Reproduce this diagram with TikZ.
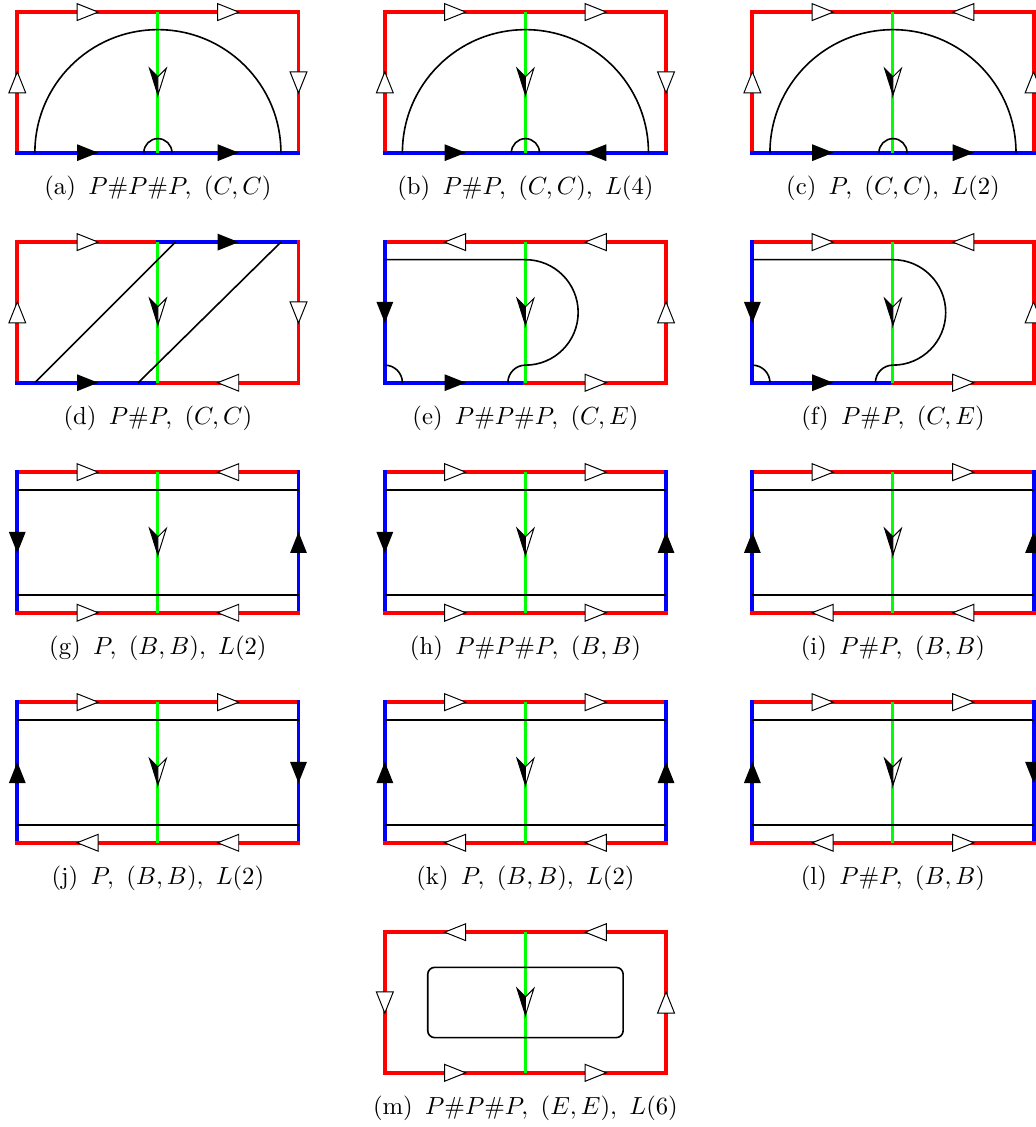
\documentclass[tikz,border=0pt]{standalone}
\usepackage{amsmath,amssymb}
\usepackage{tikz}
\usetikzlibrary{decorations.markings}

\tikzset{
  rside/.style={red, line width=1.6pt, line cap=rect},
  bside/.style={blue, line width=1.6pt, line cap=rect},
  curve/.style={black, line width=0.65pt},
  hollowtip/.style={postaction={decorate}, decoration={markings, mark=at position 0.5 with {
      \draw[black, line width=0.4pt, fill=white] (0.15,0) -- (-0.15,0.12) -- (-0.15,-0.12) -- cycle;}}},
  solidtip/.style={postaction={decorate}, decoration={markings, mark=at position 0.5 with {
      \fill[black] (0.15,0) -- (-0.15,0.12) -- (-0.15,-0.12) -- cycle;}}},
  seam/.style={green, line width=1.2pt, postaction={decorate}, decoration={markings, mark=at position 0.5 with {
      \fill[black] (0.18,0) -- (-0.2,-0.12) -- (-0.08,0) -- cycle;
      \draw[black, line width=0.4pt, fill=white] (0.18,0) -- (-0.2,0.12) -- (-0.08,0) -- cycle;
      \draw[black, line width=0.4pt] (0.18,0) -- (-0.2,-0.12) -- (-0.08,0);}}},
}

\begin{document}
\begin{tikzpicture}
  \useasboundingbox (-0.246,-13.859) rectangle (14.477,2.172);

  % (a)
  \begin{scope}[shift={(0,0)}]
  \draw[rside, hollowtip] (0,2) -- (2,2);
  \draw[rside, hollowtip] (2,2) -- (4,2);
  \draw[rside, hollowtip] (0,0) -- (0,2);
  \draw[rside, hollowtip] (4,2) -- (4,0);
  \draw[bside, solidtip] (0,0) -- (2,0);
  \draw[bside, solidtip] (2,0) -- (4,0);
  \draw[seam] (2,2) -- (2,0);
  \draw[curve] (0.25,0) arc (180:0:1.75);
  \draw[curve] (1.8,0) arc (180:0:0.2);
  \node (capa) at (2,-0.5) {(a)\enspace$P\#P\#P,\ (C,C)$};
  \end{scope}

  % (b)
  \begin{scope}[shift={(5.228,0)}]
  \draw[rside, hollowtip] (0,2) -- (2,2);
  \draw[rside, hollowtip] (2,2) -- (4,2);
  \draw[rside, hollowtip] (0,0) -- (0,2);
  \draw[rside, hollowtip] (4,2) -- (4,0);
  \draw[bside, solidtip] (0,0) -- (2,0);
  \draw[bside, solidtip] (4,0) -- (2,0);
  \draw[seam] (2,2) -- (2,0);
  \draw[curve] (0.25,0) arc (180:0:1.75);
  \draw[curve] (1.8,0) arc (180:0:0.2);
  \node (capb) at (2,-0.5) {(b)\enspace$P\#P,\ (C,C),\ L(4)$};
  \end{scope}

  % (c)
  \begin{scope}[shift={(10.456,0)}]
  \draw[rside, hollowtip] (0,2) -- (2,2);
  \draw[rside, hollowtip] (4,2) -- (2,2);
  \draw[rside, hollowtip] (0,0) -- (0,2);
  \draw[rside, hollowtip] (4,0) -- (4,2);
  \draw[bside, solidtip] (0,0) -- (2,0);
  \draw[bside, solidtip] (2,0) -- (4,0);
  \draw[seam] (2,2) -- (2,0);
  \draw[curve] (0.25,0) arc (180:0:1.75);
  \draw[curve] (1.8,0) arc (180:0:0.2);
  \node (capc) at (2,-0.5) {(c)\enspace$P,\ (C,C),\ L(2)$};
  \end{scope}

  % (d)
  \begin{scope}[shift={(0,-3.272)}]
  \draw[rside, hollowtip] (0,2) -- (2,2);
  \draw[bside, solidtip] (2,2) -- (4,2);
  \draw[rside, hollowtip] (0,0) -- (0,2);
  \draw[rside, hollowtip] (4,2) -- (4,0);
  \draw[bside, solidtip] (0,0) -- (2,0);
  \draw[rside, hollowtip] (4,0) -- (2,0);
  \draw[seam] (2,2) -- (2,0);
  \draw[curve] (0.25,0) -- (2.25,2);
  \draw[curve] (1.72,0) -- (3.75,2);
  \node (capd) at (2,-0.5) {(d)\enspace$P\#P,\ (C,C)$};
  \end{scope}

  % (e)
  \begin{scope}[shift={(5.228,-3.272)}]
  \draw[rside, hollowtip] (2,2) -- (0,2);
  \draw[rside, hollowtip] (4,2) -- (2,2);
  \draw[bside, solidtip] (0,2) -- (0,0);
  \draw[rside, hollowtip] (4,0) -- (4,2);
  \draw[bside, solidtip] (0,0) -- (2,0);
  \draw[rside, hollowtip] (2,0) -- (4,0);
  \draw[seam] (2,2) -- (2,0);
  \draw[curve] (0,1.75) -- (2,1.75) arc (90:-90:0.75) arc (90:180:0.25);
  \draw[curve] (0,0.25) arc (90:0:0.25);
  \node (cape) at (2,-0.5) {(e)\enspace$P\#P\#P,\ (C,E)$};
  \end{scope}

  % (f)
  \begin{scope}[shift={(10.456,-3.272)}]
  \draw[rside, hollowtip] (0,2) -- (2,2);
  \draw[rside, hollowtip] (4,2) -- (2,2);
  \draw[bside, solidtip] (0,2) -- (0,0);
  \draw[rside, hollowtip] (4,0) -- (4,2);
  \draw[bside, solidtip] (0,0) -- (2,0);
  \draw[rside, hollowtip] (2,0) -- (4,0);
  \draw[seam] (2,2) -- (2,0);
  \draw[curve] (0,1.75) -- (2,1.75) arc (90:-90:0.75) arc (90:180:0.25);
  \draw[curve] (0,0.25) arc (90:0:0.25);
  \node (capf) at (2,-0.5) {(f)\enspace$P\#P,\ (C,E)$};
  \end{scope}

  % (g)
  \begin{scope}[shift={(0,-6.544)}]
  \draw[rside, hollowtip] (0,2) -- (2,2);
  \draw[rside, hollowtip] (4,2) -- (2,2);
  \draw[bside, solidtip] (0,2) -- (0,0);
  \draw[bside, solidtip] (4,0) -- (4,2);
  \draw[rside, hollowtip] (0,0) -- (2,0);
  \draw[rside, hollowtip] (4,0) -- (2,0);
  \draw[seam] (2,2) -- (2,0);
  \draw[curve] (0,1.75) -- (4,1.75);
  \draw[curve] (0,0.25) -- (4,0.25);
  \node (capg) at (2,-0.5) {(g)\enspace$P,\ (B,B),\ L(2)$};
  \end{scope}

  % (h)
  \begin{scope}[shift={(5.228,-6.544)}]
  \draw[rside, hollowtip] (0,2) -- (2,2);
  \draw[rside, hollowtip] (2,2) -- (4,2);
  \draw[bside, solidtip] (0,2) -- (0,0);
  \draw[bside, solidtip] (4,0) -- (4,2);
  \draw[rside, hollowtip] (0,0) -- (2,0);
  \draw[rside, hollowtip] (2,0) -- (4,0);
  \draw[seam] (2,2) -- (2,0);
  \draw[curve] (0,1.75) -- (4,1.75);
  \draw[curve] (0,0.25) -- (4,0.25);
  \node (caph) at (2,-0.5) {(h)\enspace$P\#P\#P,\ (B,B)$};
  \end{scope}

  % (i)
  \begin{scope}[shift={(10.456,-6.544)}]
  \draw[rside, hollowtip] (0,2) -- (2,2);
  \draw[rside, hollowtip] (2,2) -- (4,2);
  \draw[bside, solidtip] (0,0) -- (0,2);
  \draw[bside, solidtip] (4,0) -- (4,2);
  \draw[rside, hollowtip] (2,0) -- (0,0);
  \draw[rside, hollowtip] (4,0) -- (2,0);
  \draw[seam] (2,2) -- (2,0);
  \draw[curve] (0,1.75) -- (4,1.75);
  \draw[curve] (0,0.25) -- (4,0.25);
  \node (capi) at (2,-0.5) {(i)\enspace$P\#P,\ (B,B)$};
  \end{scope}

  % (j)
  \begin{scope}[shift={(0,-9.816)}]
  \draw[rside, hollowtip] (0,2) -- (2,2);
  \draw[rside, hollowtip] (2,2) -- (4,2);
  \draw[bside, solidtip] (0,0) -- (0,2);
  \draw[bside, solidtip] (4,2) -- (4,0);
  \draw[rside, hollowtip] (2,0) -- (0,0);
  \draw[rside, hollowtip] (4,0) -- (2,0);
  \draw[seam] (2,2) -- (2,0);
  \draw[curve] (0,1.75) -- (4,1.75);
  \draw[curve] (0,0.25) -- (4,0.25);
  \node (capj) at (2,-0.5) {(j)\enspace$P,\ (B,B),\ L(2)$};
  \end{scope}

  % (k)
  \begin{scope}[shift={(5.228,-9.816)}]
  \draw[rside, hollowtip] (0,2) -- (2,2);
  \draw[rside, hollowtip] (2,2) -- (4,2);
  \draw[bside, solidtip] (0,0) -- (0,2);
  \draw[bside, solidtip] (4,0) -- (4,2);
  \draw[rside, hollowtip] (2,0) -- (0,0);
  \draw[rside, hollowtip] (4,0) -- (2,0);
  \draw[seam] (2,2) -- (2,0);
  \draw[curve] (0,1.75) -- (4,1.75);
  \draw[curve] (0,0.25) -- (4,0.25);
  \node (capk) at (2,-0.5) {(k)\enspace$P,\ (B,B),\ L(2)$};
  \end{scope}

  % (l)
  \begin{scope}[shift={(10.456,-9.816)}]
  \draw[rside, hollowtip] (0,2) -- (2,2);
  \draw[rside, hollowtip] (2,2) -- (4,2);
  \draw[bside, solidtip] (0,0) -- (0,2);
  \draw[bside, solidtip] (4,2) -- (4,0);
  \draw[rside, hollowtip] (2,0) -- (0,0);
  \draw[rside, hollowtip] (2,0) -- (4,0);
  \draw[seam] (2,2) -- (2,0);
  \draw[curve] (0,1.75) -- (4,1.75);
  \draw[curve] (0,0.25) -- (4,0.25);
  \node (capl) at (2,-0.5) {(l)\enspace$P\#P,\ (B,B)$};
  \end{scope}

  % (m)
  \begin{scope}[shift={(5.228,-13.088)}]
  \draw[rside, hollowtip] (2,2) -- (0,2);
  \draw[rside, hollowtip] (4,2) -- (2,2);
  \draw[rside, hollowtip] (0,2) -- (0,0);
  \draw[rside, hollowtip] (4,0) -- (4,2);
  \draw[rside, hollowtip] (0,0) -- (2,0);
  \draw[rside, hollowtip] (2,0) -- (4,0);
  \draw[seam] (2,2) -- (2,0);
  \draw[curve, rounded corners=0.1cm] (0.61,0.5) rectangle (3.39,1.5);
  \node (capm) at (2,-0.5) {(m)\enspace$P\#P\#P,\ (E,E),\ L(6)$};
  \end{scope}
\end{tikzpicture}
\end{document}
